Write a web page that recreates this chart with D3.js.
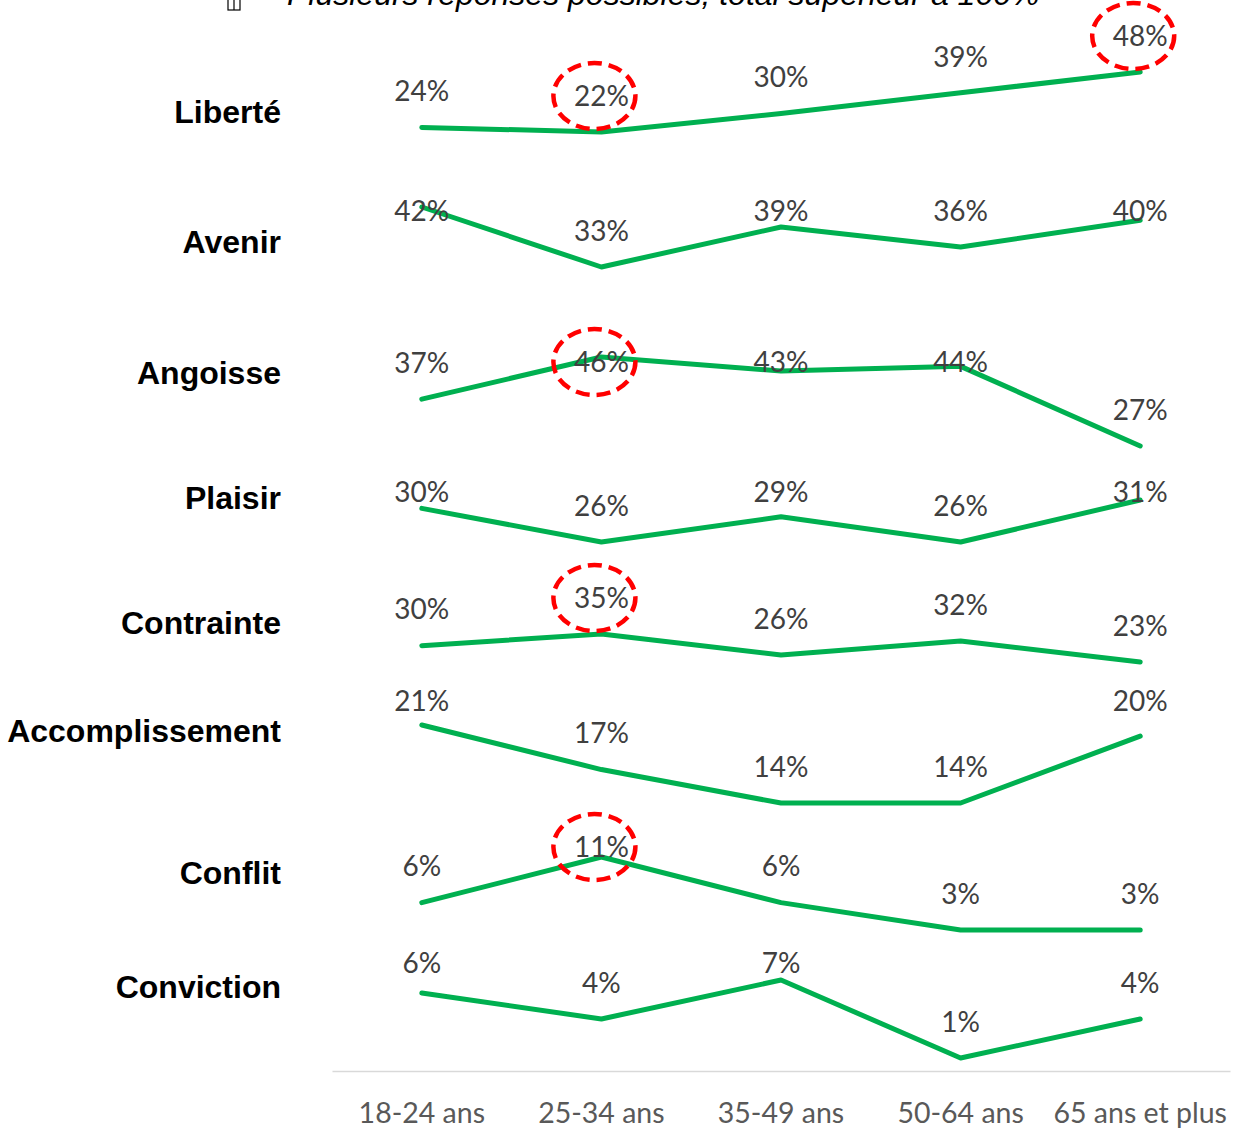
<!DOCTYPE html>
<html>
<head>
<meta charset="utf-8">
<script src="https://cdn.jsdelivr.net/npm/d3@7"></script>
<style>
  body { margin: 0; background: #ffffff; }
  .rowLabel { font-family: "Liberation Sans", Arial, sans-serif; font-weight: bold; font-size: 32px; fill: #000000; }
  .valueLabel { font-family: Lato, "Open Sans", sans-serif; font-size: 28px; fill: #404040; }
  .axisLabel { font-family: Lato, "Open Sans", sans-serif; font-size: 28.5px; fill: #595959; }
  .note { font-family: "Liberation Sans", Arial, sans-serif; font-style: italic; font-size: 32px; fill: #000000; }
</style>
</head>
<body>
<div id="chart"></div>
<script>
// age groups (x axis)
var categories = ["18-24 ans", "25-34 ans", "35-49 ans", "50-64 ans", "65 ans et plus"];

// words, one small chart each
var words = ["Liberté", "Avenir", "Angoisse", "Plaisir", "Contrainte", "Accomplissement", "Conflit", "Conviction"];

// percentages per word, in the order of categories
var liberte         = [24, 22, 30, 39, 48];
var avenir          = [42, 33, 39, 36, 40];
var angoisse        = [37, 46, 43, 44, 27];
var plaisir         = [30, 26, 29, 26, 31];
var contrainte      = [30, 35, 26, 32, 23];
var accomplissement = [21, 17, 14, 14, 20];
var conflit         = [6, 11, 6, 3, 3];
var conviction      = [6, 4, 7, 1, 4];

var series = [liberte, avenir, angoisse, plaisir, contrainte, accomplissement, conflit, conviction];

// circled values: [word, category]
var highlights = [
    ["Liberté", "25-34 ans"],
    ["Liberté", "65 ans et plus"],
    ["Angoisse", "25-34 ans"],
    ["Contrainte", "25-34 ans"],
    ["Conflit", "25-34 ans"]
];

var noteText = "Plusieurs réponses possibles, total supérieur à 100%";

/**
 * Constructor for the stacked small line charts
 */
function WordLinesChart(){
    var self = this;
    self.init();
};

/**
 * Sets up svg and the layout of each row (every row is its own little plot)
 */
WordLinesChart.prototype.init = function(){
    var self = this;
    self.svgWidth = 1239;
    self.svgHeight = 1131;

    self.svg = d3.select("#chart").append("svg")
        .attr("width", self.svgWidth)
        .attr("height", self.svgHeight);

    // plot top/bottom of each row (pixel range for min..max of that row), label line, top limit for value labels
    self.rows = [
        {top: 72,  bottom: 132,  labelY: 112, textTop: 20},
        {top: 207, bottom: 267,  labelY: 242, textTop: 211},
        {top: 357, bottom: 446,  labelY: 373, textTop: 362},
        {top: 500, bottom: 542,  labelY: 498, textTop: 492},
        {top: 634, bottom: 662,  labelY: 623, textTop: 590},
        {top: 725, bottom: 803,  labelY: 731, textTop: 701},
        {top: 857, bottom: 930,  labelY: 873, textTop: 847},
        {top: 980, bottom: 1058, labelY: 987, textTop: 963}
    ];

    self.x = d3.scaleBand()
        .domain(categories)
        .range([332, 1230]);
};

WordLinesChart.prototype.update = function(){
    var self = this;
    var xc = function(c){ return self.x(c) + self.x.bandwidth() / 2; };

    // note on top (cut off in the original)
    self.svg.append("rect")
        .attr("x", 228).attr("y", -2)
        .attr("width", 12).attr("height", 12)
        .style("fill", "none").style("stroke", "#000").style("stroke-width", 1.2);
    self.svg.append("line")
        .attr("x1", 234).attr("y1", -2).attr("x2", 234).attr("y2", 10)
        .style("stroke", "#000").style("stroke-width", 1.2);
    self.svg.append("text")
        .attr("class", "note")
        .attr("x", 287)
        .attr("y", 5)
        .text(noteText);

    var labelPos = {};

    words.forEach(function(word, i){
        var values = series[i];
        var row = self.rows[i];
        var y = d3.scaleLinear()
            .domain(d3.extent(values))
            .range([row.bottom, row.top]);

        var pts = values.map(function(v, j){ return {cat: categories[j], value: v}; });

        self.svg.append("text")
            .attr("class", "rowLabel")
            .attr("x", 281)
            .attr("y", row.labelY)
            .attr("dy", "0.35em")
            .attr("text-anchor", "end")
            .text(word);

        var line = d3.line()
            .x(function(d){ return xc(d.cat); })
            .y(function(d){ return y(d.value); });

        self.svg.append("path")
            .datum(pts)
            .attr("d", line)
            .style("fill", "none")
            .style("stroke", "#00B050")
            .style("stroke-width", 5)
            .style("stroke-linejoin", "round")
            .style("stroke-linecap", "round");

        // labels sit above the point, but not above the row's top
        self.svg.selectAll(null)
            .data(pts)
            .enter()
            .append("text")
            .attr("class", "valueLabel")
            .attr("x", function(d){
                var p = xc(d.cat);
                labelPos[word + "|" + d.cat] = {x: p, y: Math.max(y(d.value) - 36, row.textTop)};
                return p;
            })
            .attr("y", function(d){ return Math.max(y(d.value) - 36, row.textTop); })
            .attr("dy", "0.35em")
            .attr("text-anchor", "middle")
            .text(function(d){ return d.value + "%"; });
    });

    // red dashed circles around a few values
    self.svg.selectAll("ellipse")
        .data(highlights)
        .enter()
        .append("ellipse")
        .attr("cx", function(d){ return labelPos[d[0] + "|" + d[1]].x - 7; })
        .attr("cy", function(d){ return labelPos[d[0] + "|" + d[1]].y; })
        .attr("rx", 41)
        .attr("ry", 33)
        .style("fill", "none")
        .style("stroke", "#FF0000")
        .style("stroke-width", 4.5)
        .style("stroke-dasharray", "14,7");

    // x axis
    var axis = self.svg.append("g")
        .attr("transform", "translate(0,1071)")
        .call(d3.axisBottom(self.x).tickSize(0).tickPadding(0));
    axis.select(".domain").style("stroke", "#D9D9D9").style("stroke-width", 1.5);
    axis.selectAll("text")
        .attr("class", "axisLabel")
        .attr("y", 42)
        .attr("dy", "0.35em")
        .style("font-size", null)
        .style("font-family", null);
    axis.attr("font-size", null).attr("font-family", null);
};

var chart = new WordLinesChart();
chart.update();
</script>
</body>
</html>
